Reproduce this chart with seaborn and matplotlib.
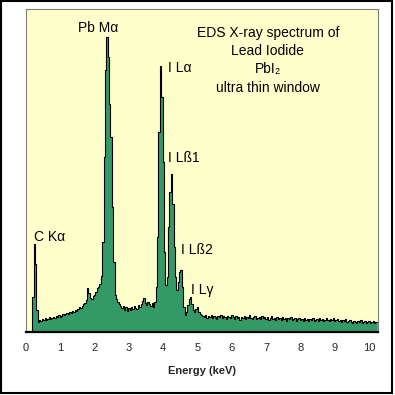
import numpy as np
import pandas as pd
import matplotlib
matplotlib.use("Agg")
import matplotlib.pyplot as plt
import seaborn as sns
from matplotlib.patches import Rectangle

# ---- data (channel counts, arbitrary units) ----
CHANNEL_KEV = 0.04
counts = [
    0, 0, 0, 0, 0, 35, 88, 68, 22, 10,
    12, 11, 13, 12, 14, 12, 13, 15, 13, 14,
    15, 14, 16, 15, 17, 15, 16, 18, 17, 18,
    19, 18, 20, 19, 21, 20, 22, 21, 23, 25,
    24, 26, 28, 29, 32, 44, 39, 34, 33, 36,
    37, 40, 44, 45, 48, 56, 90, 175, 262, 295,
    275, 228, 195, 125, 70, 37, 33, 30, 28, 26,
    24, 26, 22, 25, 21, 24, 22, 25, 23, 26,
    24, 23, 27, 25, 28, 31, 34, 29, 27, 30,
    28, 26, 29, 25, 30, 45, 95, 200, 266, 235,
    170, 80, 47, 55, 105, 140, 158, 128, 85, 55,
    42, 50, 60, 62, 45, 25, 17, 20, 27, 33,
    35, 28, 22, 20, 23, 25, 20, 18, 17, 16,
    15, 17, 14, 16, 15, 17, 14, 16, 15, 13,
    16, 15, 17, 14, 16, 15, 13, 16, 15, 14,
    17, 15, 13, 16, 14, 15, 12, 15, 14, 16,
    13, 15, 14, 17, 14, 13, 15, 16, 13, 14,
    15, 13, 16, 14, 15, 13, 15, 12, 14, 16,
    13, 14, 12, 15, 13, 14, 12, 15, 13, 14,
    11, 14, 13, 15, 12, 13, 14, 11, 13, 14,
    12, 13, 11, 14, 12, 13, 11, 13, 12, 14,
    11, 12, 13, 11, 14, 12, 13, 11, 12, 14,
    12, 11, 13, 12, 14, 11, 12, 13, 11, 12,
    10, 12, 11, 13, 10, 11, 12, 10, 9, 11,
    10, 9, 11, 10, 12, 9, 10, 11, 9, 10,
    11, 9, 10, 11, 9, 10, 10,
]
energy = np.round(np.arange(len(counts)) * CHANNEL_KEV, 2)

xtick_values = list(range(11))
peak_labels = ["Pb Mα", "I Lα", "I Lß1", "C Kα", "I Lß2", "I Lγ"]
peak_label_x = [1.53, 4.13, 4.13, 0.245, 4.53, 4.82]
peak_label_y = [300, 260, 170, 91, 78, 38]
title_lines = ["EDS X-ray spectrum of", "Lead Iodide", "PbI₂", "ultra thin window"]
title_y = [295, 277, 259, 239.5]

# ---- style ----
sns.set_style("white")
plt.rcParams["font.family"] = ["Liberation Sans", "DejaVu Sans"]

W = 395
fig = plt.figure(figsize=(W / 100, W / 100), dpi=100)
fig.patch.set_facecolor("white")
ax = fig.add_axes([26 / W, 1 - 332 / W, 352 / W, 323 / W])
ax.set_facecolor("#FFFFCC")

df = pd.DataFrame({"energy": energy, "counts": counts})
ax.fill_between(df["energy"], df["counts"], step="mid", color="#339966", lw=0, zorder=2)
sns.lineplot(data=df, x="energy", y="counts", ax=ax, drawstyle="steps-mid",
             color="black", lw=0.8, zorder=3)

ax.set_xlim(0, 10.26)
ax.set_ylim(0, 323)
ax.set_xticks(xtick_values)
ax.set_xticklabels([str(v) for v in xtick_values])
ax.set_yticks([])
ax.tick_params(axis="x", length=0, pad=8, labelsize=8)
ax.set_xlabel("Energy (keV)", fontsize=8, fontweight="bold", labelpad=9)
ax.set_ylabel("")

for side in ["top", "left", "right"]:
    ax.spines[side].set_color("#808080")
    ax.spines[side].set_linewidth(0.8)
ax.spines["bottom"].set_color("black")
ax.spines["bottom"].set_linewidth(1.6)
ax.spines["bottom"].set_zorder(5)

for lab, x, y in zip(peak_labels, peak_label_x, peak_label_y):
    ax.text(x, y, lab, fontsize=10, ha="left", va="baseline", color="black", zorder=6)

for line, y in zip(title_lines, title_y):
    ax.text(7.05, y, line, fontsize=10, ha="center", va="baseline", color="black", zorder=6)

fig.add_artist(Rectangle((1 / W, 2 / W), 391 / W, 392 / W, transform=fig.transFigure,
                         fill=False, edgecolor="black", lw=1.5))

fig.savefig("out.png", dpi=100, facecolor="white")
